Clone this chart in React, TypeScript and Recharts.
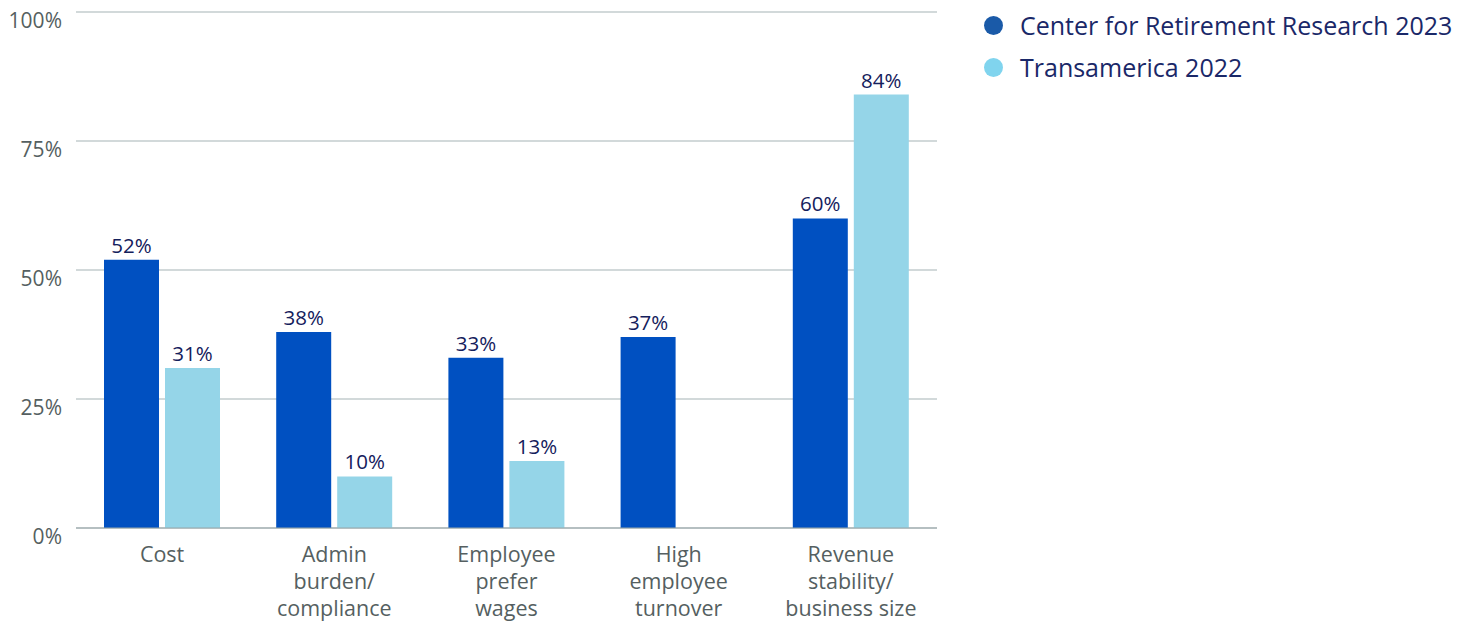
import {Bar, BarChart, CartesianGrid, LabelList, XAxis, YAxis} from "recharts";

const categories = ["Cost", "Admin burden/ compliance", "Employee prefer wages", "High employee turnover", "Revenue stability/ business size"];
const categoryLines = [["Cost"], ["Admin", "burden/", "compliance"], ["Employee", "prefer", "wages"], ["High", "employee", "turnover"], ["Revenue", "stability/", "business size"]];
const crr2023 = [52, 38, 33, 37, 60];
const transamerica2022: (number | null)[] = [31, 10, 13, null, 84];
const yTicks = [0, 25, 50, 75, 100];

const seriesNames = ["Center for Retirement Research 2023", "Transamerica 2022"];
const barColors = ["#0050c1", "#95d5e8"];
const dotColors = ["#1a5aa8", "#80d4ee"];

const data = categories.map((name, i) => ({
    name,
    crr: crr2023[i],
    trans: transamerica2022[i],
}));

const FONT = "'Open Sans', Roboto, sans-serif";

const XTick = (props: any) => {
    const {x, y, index} = props;
    const lines = categoryLines[index] || [];
    return (
        <text x={x} y={y + 26} textAnchor="middle" fill="#555f61" fontSize={21.5} fontFamily={FONT}>
            {lines.map((l, i) => (
                <tspan key={i} x={x} dy={i === 0 ? 0 : 27}>{l}</tspan>
            ))}
        </text>
    );
};

const YTick = (props: any) => {
    const {x, y, payload} = props;
    return (
        <text x={x - 6} y={y + 16} textAnchor="end" fill="#555f61" fontSize={21} fontFamily={FONT}>
            {payload.value}%
        </text>
    );
};

const ChartLegend = () => (
    <div style={{position: "absolute", left: 984, top: 4, fontFamily: FONT}}>
        {seriesNames.map((n, i) => (
            <div key={n} style={{display: "flex", alignItems: "center", height: 42}}>
                <span style={{
                    display: "inline-block", width: 19, height: 19, borderRadius: 10,
                    background: dotColors[i], marginRight: 17,
                }}/>
                <span style={{fontSize: 25, color: "#1a2868"}}>{n}</span>
            </div>
        ))}
    </div>
);

const App = () => {
    return (
        <div style={{position: "absolute", left: 0, top: 0, width: 1476, height: 623, background: "#fff"}}>
            <BarChart
                data={data}
                width={1476}
                height={623}
                margin={{top: 12, right: 539, bottom: 0, left: 0}}
                barCategoryGap={28}
                barGap={6}
            >
                <CartesianGrid vertical={false} stroke="#a5b3b5" strokeWidth={1.2}/>
                <XAxis
                    dataKey="name"
                    height={95}
                    tick={<XTick/>}
                    tickLine={false}
                    axisLine={{stroke: "#98a6a8", strokeWidth: 1.2}}
                    interval={0}
                />
                <YAxis
                    width={76}
                    domain={[0, 100]}
                    ticks={yTicks}
                    tick={<YTick/>}
                    tickLine={false}
                    axisLine={false}
                />
                <Bar dataKey="crr" name={seriesNames[0]} fill={barColors[0]} isAnimationActive={false}>
                    <LabelList dataKey="crr" position="top" offset={7} formatter={(v: any) => `${v}%`}
                               fill="#14205c" fontSize={20.5} fontFamily={FONT}/>
                </Bar>
                <Bar dataKey="trans" name={seriesNames[1]} fill={barColors[1]} isAnimationActive={false}>
                    <LabelList dataKey="trans" position="top" offset={7}
                               formatter={(v: any) => (v == null ? "" : `${v}%`)}
                               fill="#14205c" fontSize={20.5} fontFamily={FONT}/>
                </Bar>
            </BarChart>
            <ChartLegend/>
        </div>
    );
};

export default App;
